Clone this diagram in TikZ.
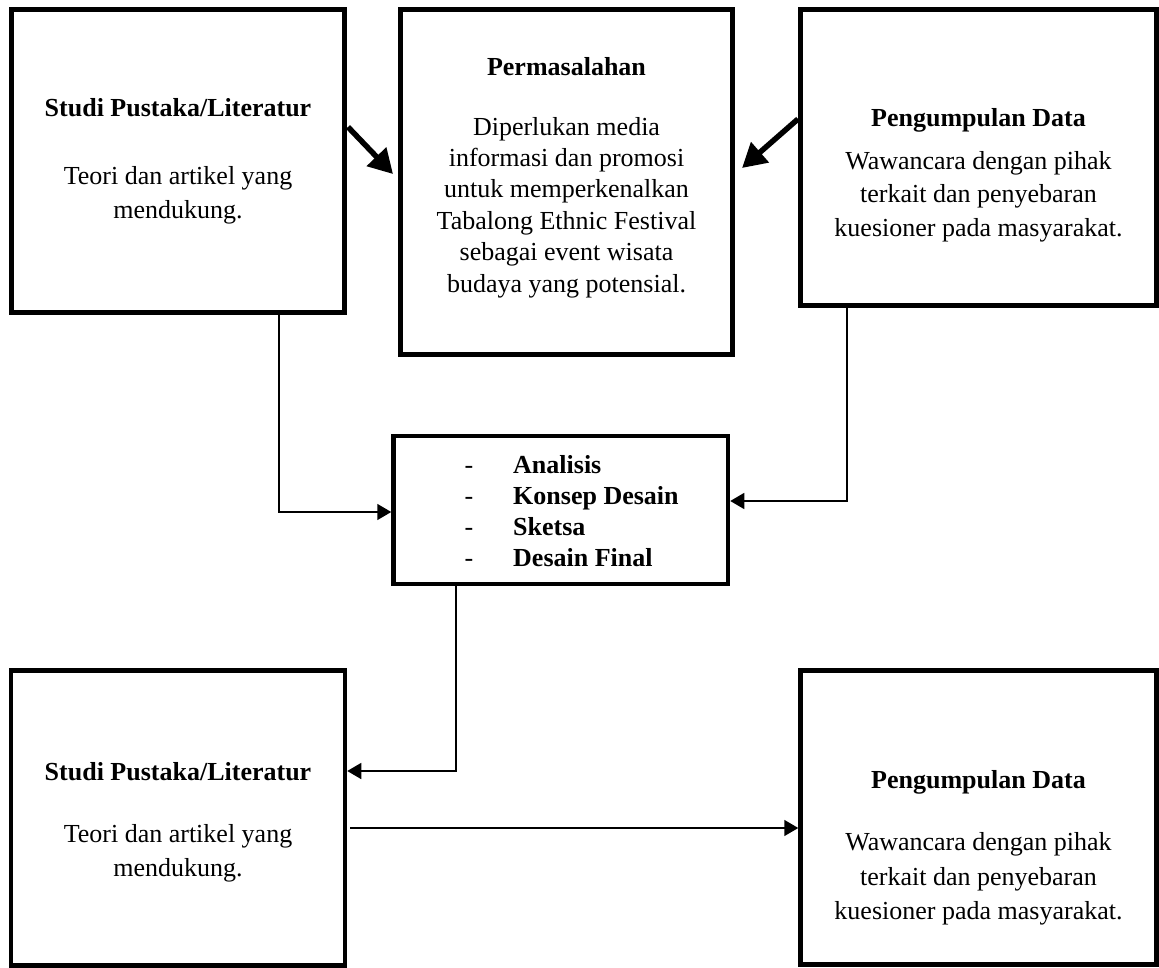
\documentclass[tikz,border=0pt]{standalone}
\usepackage{fontspec}
\setmainfont{Liberation Serif}
\usetikzlibrary{arrows.meta}
\begin{document}
\begin{tikzpicture}[x=1pt,y=-1pt,
  box/.style={draw=black,line width=4.5pt,rectangle,inner sep=0pt},
  conn/.style={draw=black,line width=1.5pt,-{Triangle[length=14pt,width=16pt]}},
  bigarrow/.style={draw=black,line width=5.5pt,-{Triangle[length=24pt,width=26pt]}},
  txt/.style={anchor=base,inner sep=0pt,font=\fontsize{26}{31}\selectfont},
  ttl/.style={anchor=base,inner sep=0pt,font=\fontsize{26}{31}\selectfont\bfseries},
  itm/.style={anchor=base west,inner sep=0pt,font=\fontsize{26}{31}\selectfont\bfseries},
  dsh/.style={anchor=base,inner sep=0pt,font=\fontsize{26}{31}\selectfont},
]
\useasboundingbox (0,0) rectangle (1159,968);

% boxes
\node[box,minimum width=333pt,minimum height=303pt] (B1) at (178,161) {};
\node[box,minimum width=332pt,minimum height=345pt] (B2) at (566.5,182) {};
\node[box,minimum width=356pt,minimum height=296pt] (B3) at (978.5,157.5) {};
\node[box,minimum width=334.5pt,minimum height=148pt] (M) at (560.75,510) {};
\node[box,minimum width=334pt,minimum height=295pt] (B4) at (178,818) {};
\node[box,minimum width=356pt,minimum height=294pt] (B5) at (978.5,817.5) {};

% box 1 text
\node[ttl] (b1t) at (178,117) {Studi Pustaka/Literatur};
\node[txt] (b1a) at (178,185) {Teori dan artikel yang};
\node[txt] (b1b) at (178,219) {mendukung.};

% box 2 text
\node[ttl] (b2t) at (566.5,76) {Permasalahan};
\node[txt] (b2a) at (566.5,136) {Diperlukan media};
\node[txt] (b2b) at (566.5,167) {informasi dan promosi};
\node[txt] (b2c) at (566.5,198) {untuk memperkenalkan};
\node[txt] (b2d) at (566.5,230) {Tabalong Ethnic Festival};
\node[txt] (b2e) at (566.5,261) {sebagai event wisata};
\node[txt] (b2f) at (566.5,293) {budaya yang potensial.};

% box 3 text
\node[ttl] (b3t) at (978.5,127) {Pengumpulan Data};
\node[txt] (b3a) at (978.5,170) {Wawancara dengan pihak};
\node[txt] (b3b) at (978.5,203) {terkait dan penyebaran};
\node[txt] (b3c) at (978.5,237) {kuesioner pada masyarakat.};

% middle box text
\node[dsh] (m1d) at (469,473) {-};
\node[itm] (m1) at (513,473) {Analisis};
\node[dsh] (m2d) at (469,504) {-};
\node[itm] (m2) at (513,504) {Konsep Desain};
\node[dsh] (m3d) at (469,535) {-};
\node[itm] (m3) at (513,535) {Sketsa};
\node[dsh] (m4d) at (469,566) {-};
\node[itm] (m4) at (513,566) {Desain Final};

% box 4 text
\node[ttl] (b4t) at (178,780) {Studi Pustaka/Literatur};
\node[txt] (b4a) at (178,842) {Teori dan artikel yang};
\node[txt] (b4b) at (178,876) {mendukung.};

% box 5 text
\node[ttl] (b5t) at (978.5,788) {Pengumpulan Data};
\node[txt] (b5a) at (978.5,850) {Wawancara dengan pihak};
\node[txt] (b5b) at (978.5,885) {terkait dan penyebaran};
\node[txt] (b5c) at (978.5,919) {kuesioner pada masyarakat.};

% diagonal arrows
\coordinate (d1s) at (348,127);
\coordinate (d1e) at (393,174);
\coordinate (d2s) at (798,119);
\coordinate (d2e) at (742,168);
\draw[bigarrow] (d1s) -- (d1e);
\draw[bigarrow] (d2s) -- (d2e);

% elbow connectors
\coordinate (k1) at (279,512);
\coordinate (k2) at (847,501);
\coordinate (k3) at (456,771);
\coordinate (k4) at (350,828);
\draw[conn] (k1 |- B1.south) -- (k1) -- (k1 -| M.west);
\draw[conn] (k2 |- B3.south) -- (k2) -- (k2 -| M.east);
\draw[conn] (k3 |- M.south) -- (k3) -- (k3 -| B4.east);
\draw[conn] (k4) -- (k4 -| B5.west);
\end{tikzpicture}
\end{document}
